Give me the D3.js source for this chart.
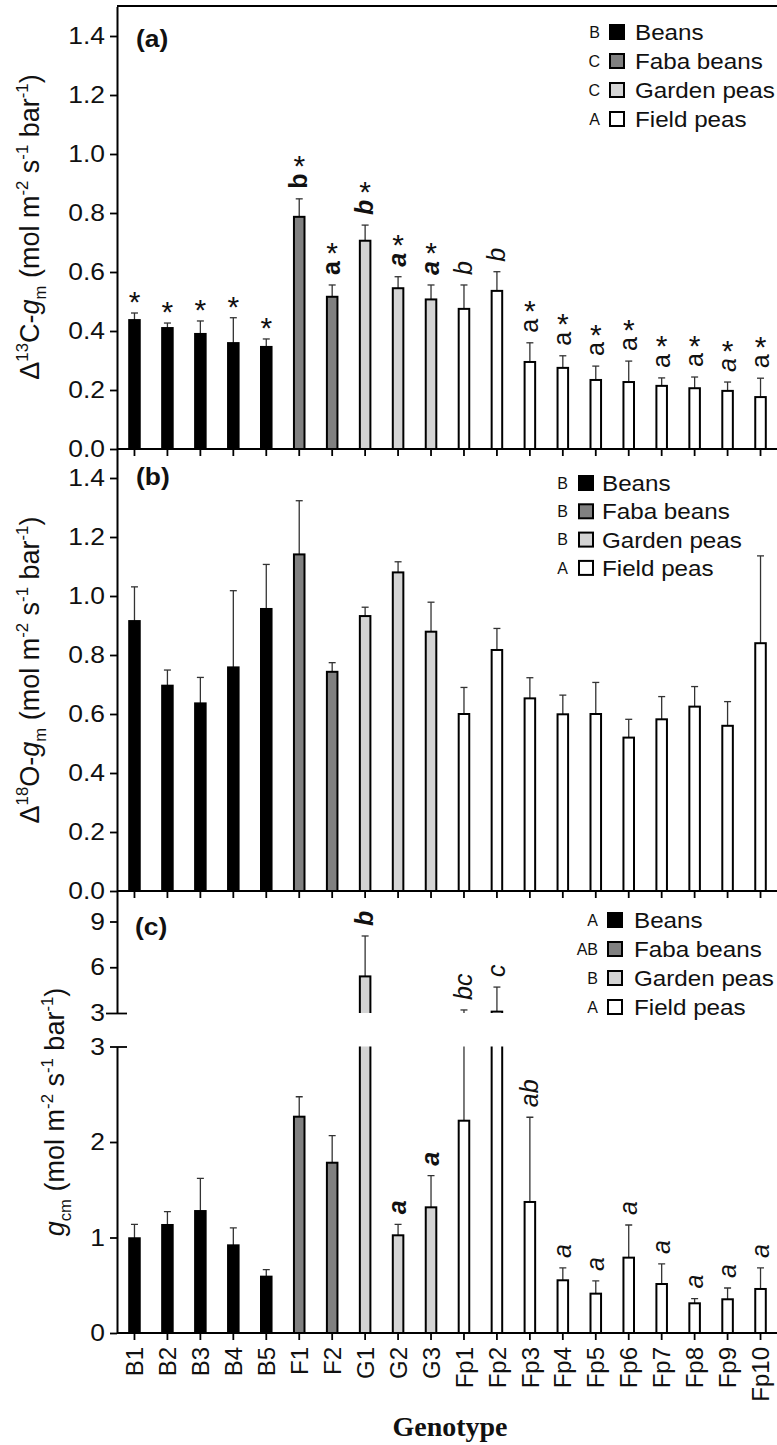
<!DOCTYPE html>
<html lang="en">
<head>
  <meta charset="UTF-8" />
  <title>Mesophyll conductance by genotype</title>
  <script src="https://cdn.jsdelivr.net/npm/d3@7"></script>
  <style>
    body { margin: 0; background: #fff; }
    svg { display: block; font-family: "Liberation Sans", Arial, sans-serif; }
  </style>
</head>
<body>
  <svg id="fig" width="777" height="1445"></svg>

  <script>
    // genotypes and crop groups
    let genotypes = ["B1", "B2", "B3", "B4", "B5", "F1", "F2", "G1", "G2", "G3",
      "Fp1", "Fp2", "Fp3", "Fp4", "Fp5", "Fp6", "Fp7", "Fp8", "Fp9", "Fp10"];
    let groups = ["Beans", "Beans", "Beans", "Beans", "Beans", "Faba beans", "Faba beans",
      "Garden peas", "Garden peas", "Garden peas",
      "Field peas", "Field peas", "Field peas", "Field peas", "Field peas",
      "Field peas", "Field peas", "Field peas", "Field peas", "Field peas"];
    let groupNames = ["Beans", "Faba beans", "Garden peas", "Field peas"];
    let groupFill = ["#000000", "#808080", "#d4d4d4", "#ffffff"];

    // (a) delta13C gm, mean and SE
    let gm13C = [0.437, 0.41, 0.39, 0.359, 0.346, 0.787, 0.516, 0.706, 0.545, 0.507,
      0.475, 0.536, 0.295, 0.275, 0.234, 0.227, 0.214, 0.206, 0.197, 0.176];
    let gm13C_se = [0.024, 0.017, 0.044, 0.086, 0.027, 0.061, 0.04, 0.053, 0.039, 0.049,
      0.081, 0.065, 0.065, 0.041, 0.047, 0.071, 0.027, 0.038, 0.03, 0.064];
    let gm13C_letters = ["", "", "", "", "", "b", "a", "b", "a", "a",
      "b", "b", "a", "a", "a", "a", "a", "a", "a", "a"];
    let gm13C_star = [1, 1, 1, 1, 1, 1, 1, 1, 1, 1, 0, 0, 1, 1, 1, 1, 1, 1, 1, 1];
    let gm13C_groupLetters = ["B", "C", "C", "A"];

    // (b) delta18O gm
    let gm18O = [0.915, 0.696, 0.636, 0.758, 0.956, 1.141, 0.743, 0.932, 1.08, 0.879,
      0.6, 0.817, 0.653, 0.599, 0.6, 0.52, 0.582, 0.625, 0.56, 0.84];
    let gm18O_se = [0.116, 0.053, 0.088, 0.26, 0.151, 0.182, 0.031, 0.03, 0.036, 0.1,
      0.09, 0.073, 0.07, 0.065, 0.107, 0.062, 0.077, 0.068, 0.082, 0.296];
    let gm18O_groupLetters = ["B", "B", "B", "A"];

    // (c) gcm
    let gcm = [0.992, 1.131, 1.277, 0.918, 0.59, 2.265, 1.783, 5.4, 1.023, 1.316,
      2.223, 3.09, 1.372, 0.552, 0.412, 0.789, 0.513, 0.311, 0.353, 0.461];
    let gcm_se = [0.146, 0.139, 0.343, 0.182, 0.073, 0.209, 0.283, 2.65, 0.115, 0.331,
      0.977, 1.61, 0.887, 0.129, 0.133, 0.342, 0.21, 0.049, 0.118, 0.22];
    let gcm_letters = ["", "", "", "", "", "", "", "b", "a", "a",
      "bc", "c", "ab", "a", "a", "a", "a", "a", "a", "a"];
    let gcm_groupLetters = ["A", "AB", "B", "A"];

    const svg = d3.select("#fig");
    const x0 = 117, x1 = 777;
    const x = d3.scaleBand().domain(genotypes).range([118, x1])
      .paddingInner(0.68).paddingOuter(0.34);
    const cx = i => x(genotypes[i]) + x.bandwidth() / 2;
    const fillOf = i => groupFill[groupNames.indexOf(groups[i])];
    const wide = "scale(1.1,1)"; // the horizontal lettering runs a little wide

    // weight / slant of the significance letters per group
    const letterStyle = {
      "Beans": ["normal", "normal"],
      "Faba beans": ["bold", "normal"],
      "Garden peas": ["bold", "italic"],
      "Field peas": ["normal", "italic"]
    };
    // field pea "a" letters in (a) are set upright, apart from Fp9
    const uprightA = new Set(["Fp3", "Fp4", "Fp5", "Fp6", "Fp7", "Fp8", "Fp10"]);

    function styleAxis(g) {
      g.attr("font-size", 24).attr("font-family", null);
      g.select(".domain").attr("stroke-width", 2);
      g.selectAll(".tick line").attr("stroke-width", 1.8);
      g.selectAll(".tick text").attr("fill", "#111");
    }

    function widenYLabels(g) {
      g.selectAll(".tick text").attr("x", -11).attr("transform", wide);
    }

    // rotated axis title with sub/superscripts
    function axisTitle(px, py, parts) {
      const fs = 27;
      const t = svg.append("text")
        .attr("transform", `translate(${px},${py}) rotate(-90)`)
        .attr("text-anchor", "middle")
        .attr("font-size", fs)
        .attr("fill", "#111");
      let shift = 0;
      parts.forEach(p => {
        const target = p.sup ? -0.42 * fs : p.sub ? 0.25 * fs : 0;
        const ts = t.append("tspan").attr("dy", target - shift).text(p.t);
        shift = target;
        if (p.sup || p.sub) ts.attr("font-size", fs * 0.62);
        if (p.it) ts.attr("font-style", "italic");
      });
    }

    function legend(letters, lx, sx, tx, y0, dy) {
      groupNames.forEach((name, k) => {
        const cy = y0 + k * dy;
        svg.append("text").attr("x", lx).attr("y", cy).attr("dy", "0.36em")
          .attr("text-anchor", "end").attr("font-size", 16).attr("fill", "#111")
          .text(letters[k]);
        svg.append("rect").attr("x", sx).attr("y", cy - 7).attr("width", 14).attr("height", 14)
          .attr("fill", groupFill[k]).attr("stroke", "#000").attr("stroke-width", 2);
        svg.append("text").attr("transform", `translate(${tx},${cy}) ${wide}`)
          .attr("dy", "0.36em").attr("font-size", 22).attr("fill", "#111").text(name);
      });
    }

    function panelTag(label, px, py) {
      svg.append("text").attr("transform", `translate(${px},${py}) ${wide}`)
        .attr("font-size", 24).attr("font-weight", "bold").attr("fill", "#111").text(label);
    }

    // letter (rotated) above the error bar, optional asterisk above it
    function annotate(i, errY, letter, star, upright) {
      const fs = 25, starFs = 30;
      let top = errY - 10;
      if (letter) {
        const st = letterStyle[groups[i]];
        const t = svg.append("text")
          .attr("transform", `translate(${cx(i)},${top}) rotate(-90)`)
          .attr("dy", "0.32em").attr("font-size", fs)
          .attr("font-weight", st[0]).attr("font-style", upright ? "normal" : st[1])
          .attr("fill", "#111").text(letter);
        top -= t.node().getComputedTextLength();
      }
      if (star) {
        const starCy = letter ? top - 15 : errY - 18;
        svg.append("text").attr("x", cx(i)).attr("y", starCy + 0.58 * starFs)
          .attr("text-anchor", "middle").attr("font-size", starFs).attr("fill", "#111").text("*");
      }
    }

    function errorBars(g, means, se, y, clip) {
      const eb = g.append("g").attr("stroke", "#333").attr("stroke-width", 1.3);
      if (clip) eb.attr("clip-path", clip);
      means.forEach((m, i) => {
        const yt = y(m + se[i]);
        eb.append("line").attr("x1", cx(i)).attr("x2", cx(i)).attr("y1", y(m)).attr("y2", yt);
        eb.append("line").attr("x1", cx(i) - 3.5).attr("x2", cx(i) + 3.5).attr("y1", yt).attr("y2", yt);
      });
    }

    function bars(g, means, y, base, clip) {
      const b = g.append("g");
      if (clip) b.attr("clip-path", clip);
      b.selectAll("rect").data(means).join("rect")
        .attr("x", (d, i) => x(genotypes[i]))
        .attr("y", d => y(d))
        .attr("width", x.bandwidth())
        .attr("height", d => Math.max(0, base - y(d)))
        .attr("fill", (d, i) => fillOf(i))
        .attr("stroke", "#000").attr("stroke-width", 2);
    }

    // panels (a) and (b): plain linear scale
    function linearPanel(top, bottom, means, se) {
      const y = d3.scaleLinear().domain([0, 1.5]).range([bottom, top]);
      const g = svg.append("g");
      errorBars(g, means, se, y);
      bars(g, means, y, y(0));
      const ya = g.append("g").attr("transform", `translate(${x0},0)`)
        .call(d3.axisLeft(y).tickValues(d3.range(0, 1.41, 0.2))
          .tickFormat(d3.format(".1f")).tickSize(7).tickSizeOuter(0).tickPadding(5));
      styleAxis(ya);
      widenYLabels(ya);
      const xa = g.append("g").attr("transform", `translate(0,${bottom})`)
        .call(d3.axisBottom(x).tickSize(7).tickSizeOuter(0).tickFormat(""));
      styleAxis(xa);
      xa.select(".domain").attr("d", `M${x0},0H${x1}`);
      return y;
    }

    // (a)
    const yA = linearPanel(6.5, 449, gm13C, gm13C_se);
    svg.append("line").attr("x1", x0).attr("x2", x1).attr("y1", 6).attr("y2", 6)
      .attr("stroke", "#000").attr("stroke-width", 2);
    gm13C.forEach((m, i) => annotate(i, yA(m + gm13C_se[i]), gm13C_letters[i], gm13C_star[i],
      uprightA.has(genotypes[i])));
    panelTag("(a)", 136, 47);
    legend(gm13C_groupLetters, 600, 610, 635, 32, 29);
    axisTitle(39, 227, [{ t: "Δ" }, { t: "13", sup: 1 }, { t: "C-" }, { t: "g", it: 1 }, { t: "m", sub: 1 },
      { t: " (mol m" }, { t: "-2", sup: 1 }, { t: " s" }, { t: "-1", sup: 1 }, { t: " bar" }, { t: "-1", sup: 1 }, { t: ")" }]);

    // (b)
    linearPanel(448.5, 891, gm18O, gm18O_se);
    panelTag("(b)", 136, 485);
    legend(gm18O_groupLetters, 568, 579, 602, 483, 28.3);
    axisTitle(39, 670, [{ t: "Δ" }, { t: "18", sup: 1 }, { t: "O-" }, { t: "g", it: 1 }, { t: "m", sub: 1 },
      { t: " (mol m" }, { t: "-2", sup: 1 }, { t: " s" }, { t: "-1", sup: 1 }, { t: " bar" }, { t: "-1", sup: 1 }, { t: ")" }]);

    // (c): broken axis, 0-3 below and 3-11 above the break
    const yLow = d3.scaleLinear().domain([0, 3]).range([1333, 1046.5]);
    const yHigh = d3.scaleLinear().domain([3, 11]).range([1013, 891]);
    const defs = svg.append("defs");
    defs.append("clipPath").attr("id", "clipLow").append("rect")
      .attr("x", x0).attr("y", 1046.5).attr("width", x1 - x0).attr("height", 300);
    defs.append("clipPath").attr("id", "clipHigh").append("rect")
      .attr("x", x0).attr("y", 860).attr("width", x1 - x0).attr("height", 1013 - 860);

    const gc = svg.append("g");
    errorBars(gc, gcm, gcm_se, yLow, "url(#clipLow)");
    bars(gc, gcm, yLow, yLow(0), "url(#clipLow)");
    // only the parts that reach above 3
    const hiIdx = gcm.map((m, i) => i).filter(i => gcm[i] + gcm_se[i] > 3);
    const ebHigh = gc.append("g").attr("stroke", "#333").attr("stroke-width", 1.3)
      .attr("clip-path", "url(#clipHigh)");
    hiIdx.forEach(i => {
      const yt = yHigh(gcm[i] + gcm_se[i]);
      ebHigh.append("line").attr("x1", cx(i)).attr("x2", cx(i))
        .attr("y1", yHigh(Math.max(3, gcm[i]))).attr("y2", yt);
      ebHigh.append("line").attr("x1", cx(i) - 3.5).attr("x2", cx(i) + 3.5).attr("y1", yt).attr("y2", yt);
    });
    gc.append("g").attr("clip-path", "url(#clipHigh)")
      .selectAll("rect").data(hiIdx.filter(i => gcm[i] > 3)).join("rect")
      .attr("x", i => x(genotypes[i]))
      .attr("y", i => yHigh(gcm[i]))
      .attr("width", x.bandwidth())
      .attr("height", i => yHigh(3) + 4 - yHigh(gcm[i]))
      .attr("fill", i => fillOf(i))
      .attr("stroke", "#000").attr("stroke-width", 2);

    const yaHigh = gc.append("g").attr("transform", `translate(${x0},0)`)
      .call(d3.axisLeft(yHigh).tickValues([3, 6, 9]).tickFormat(d3.format("d"))
        .tickSize(7).tickSizeOuter(0).tickPadding(5));
    styleAxis(yaHigh);
    widenYLabels(yaHigh);
    yaHigh.selectAll(".tick").filter(d => d === 3).select("line").attr("x1", 10).attr("x2", -11);
    const yaLow = gc.append("g").attr("transform", `translate(${x0},0)`)
      .call(d3.axisLeft(yLow).tickValues([0, 1, 2, 3]).tickFormat(d3.format("d"))
        .tickSize(7).tickSizeOuter(0).tickPadding(5));
    styleAxis(yaLow);
    widenYLabels(yaLow);
    yaLow.selectAll(".tick").filter(d => d === 3).select("line").attr("x1", 10).attr("x2", -7);

    const xaC = gc.append("g").attr("transform", "translate(0,1333)")
      .call(d3.axisBottom(x).tickSize(7).tickSizeOuter(0));
    styleAxis(xaC);
    xaC.select(".domain").attr("d", `M${x0},0H${x1}`);
    xaC.selectAll(".tick text")
      .attr("transform", "rotate(-90)")
      .attr("x", -14).attr("y", 0).attr("dy", "0.36em")
      .attr("text-anchor", "end");

    gcm.forEach((m, i) => {
      const t = m + gcm_se[i];
      annotate(i, t > 3 ? yHigh(t) : yLow(t), gcm_letters[i], 0, false);
    });
    panelTag("(c)", 135, 935);
    legend(gcm_groupLetters, 598, 608, 634, 920, 29);
    axisTitle(64, 1112, [{ t: "g", it: 1 }, { t: "cm", sub: 1 },
      { t: " (mol m" }, { t: "-2", sup: 1 }, { t: " s" }, { t: "-1", sup: 1 }, { t: " bar" }, { t: "-1", sup: 1 }, { t: ")" }]);

    svg.append("text").attr("x", 450).attr("y", 1436).attr("text-anchor", "middle")
      .attr("font-family", "Liberation Serif, Times New Roman, serif")
      .attr("font-weight", "bold").attr("font-size", 28).attr("fill", "#111")
      .text("Genotype");
  </script>
</body>
</html>
